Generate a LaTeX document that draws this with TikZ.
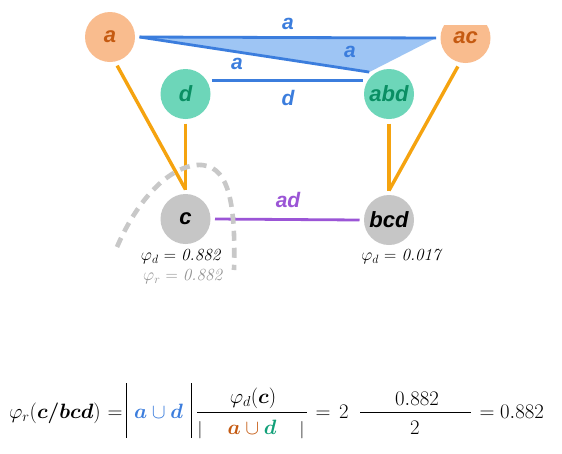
\documentclass[tikz,border=0pt]{standalone}
\usepackage{fontspec}
\usepackage{amsmath}
\usepackage{bm}
\newfontfamily\lblfont{Liberation Sans}
\definecolor{orfill}{HTML}{F9BC8E}
\definecolor{ortext}{HTML}{C55A11}
\definecolor{grfill}{HTML}{6DD6B9}
\definecolor{grtext}{HTML}{0A8F63}
\definecolor{gyfill}{HTML}{C6C6C6}
\definecolor{blueline}{HTML}{3B7DDD}
\definecolor{bluefill}{HTML}{9EC5F4}
\definecolor{orline}{HTML}{F5A30F}
\definecolor{purline}{HTML}{9B55D6}
\definecolor{dashgray}{HTML}{C8C8C8}
\definecolor{fgreen}{HTML}{12A079}
\usetikzlibrary{calc}
\begin{document}
\begin{tikzpicture}[x=1pt,y=-1pt,
  vtx/.style={circle,minimum size=50pt,inner sep=0pt,outer sep=4.5pt,
    font=\lblfont\bfseries\itshape\fontsize{22}{26}\selectfont},
  orvtx/.style={vtx,fill=orfill,text=ortext},
  grvtx/.style={vtx,fill=grfill,text=grtext},
  gyvtx/.style={vtx,fill=gyfill,text=black},
  elbl/.style={font=\lblfont\bfseries\itshape\fontsize{21}{25}\selectfont,inner sep=0pt},
  blueedge/.style={draw=blueline,line width=2.8pt},
  oredge/.style={draw=orline,line width=3.4pt},
  valtxt/.style={font=\fontsize{17}{20}\selectfont,inner sep=0pt},
  fml/.style={font=\fontsize{21}{25}\selectfont,inner sep=0pt,anchor=base},
]
\fill[white] (0,0) rectangle (562,453);
\useasboundingbox (0,0) rectangle (562,453);

% clipped fill of ac
\begin{scope}
  \clip (430,25) rectangle (500,75);
  \fill[orfill] (465.5,38) circle[radius=25];
\end{scope}

% nodes
\node[orvtx] (a) at (110,37) {a};
\node[vtx,text=ortext] (ac) at (465.5,38) {ac};
\node[grvtx] (d) at (185.5,94) {d};
\node[grvtx] (abd) at (389,94) {abd};
\node[gyvtx] (c) at (185.5,219) {c};
\node[gyvtx] (bcd) at (389,220) {bcd};

% blue hyperedge triangle
\fill[bluefill] (a.east) -- (ac.west) -- (abd.132) -- cycle;
\draw[blueedge] (a.east) -- (ac.west);
\draw[blueedge] (a.east) -- (abd.132);
\draw[blueedge] (d.27) -- (abd.153);

% orange edges
\draw[oredge] (a.-76) -- (c.north);
\draw[oredge] (d.south) -- (c.north);
\draw[oredge] (abd.south) -- (bcd.north);
\draw[oredge] (ac.255) -- (bcd.north);

% purple edge
\draw[draw=purline,line width=2.8pt] (c.east) -- (bcd.west);

% edge labels
\node[elbl,text=blueline] (la1) at (288,24) {a};
\node[elbl,text=blueline] (la2) at (350,52) {a};
\node[elbl,text=blueline] (la3) at (237,64) {a};
\node[elbl,text=blueline] (ld) at (288,98) {d};
\node[elbl,text=purline] (lad) at (288,200) {ad};

% dashed arc
\draw[dashgray,line width=4.6pt,dash pattern=on 10pt off 7pt]
  (117,247) .. controls (135,205) and (165,168) .. (197,165)
  .. controls (228,163) and (236,200) .. (234,270);

% values
\node[valtxt] (vc) at (181,257) {$\varphi_d$ = \textit{0.882}};
\node[valtxt,text=gray!85] (vr) at (183,277) {$\varphi_r$ = \textit{0.882}};
\node[valtxt] (vbcd) at (402,257) {$\varphi_d$ = \textit{0.017}};

% formula
\node[fml,font=\fontsize{20}{24}\selectfont] (f1) at (55,418) {$\varphi_r(\bm{c/bcd})$};
\node[fml] (eq1) at (115,418) {$=$};
\draw[line width=1pt] (126,383) -- (126,438);
\node[fml] (aud) at (158.5,418) {$\color{blueline}\bm{a}\cup\color{blueline}\bm{d}$};
\draw[line width=1pt] (191,383) -- (191,438);
\draw[line width=0.7pt] (197,412) -- (307,412);
\node[fml] (num1) at (253,403) {$\varphi_d(\bm{c})$};
\node[fml,font=\fontsize{18}{22}\selectfont] (db1) at (200,434) {$|$};
\node[fml] (den1) at (252,434) {$\color{ortext}\bm{a}\cup\color{fgreen}\bm{d}$};
\node[fml,font=\fontsize{18}{22}\selectfont] (db2) at (302,434) {$|$};
\node[fml] (eq2) at (323,418) {$=$};
\node[fml] (two) at (344,418) {$2$};
\draw[line width=0.7pt] (360,412) -- (471,412);
\node[fml] (num2) at (417,405) {$0.882$};
\node[fml] (den2) at (415,434) {$2$};
\node[fml] (eq3) at (487,418) {$=$};
\node[fml,anchor=base west] (res) at (500,418) {$0.882$};
\end{tikzpicture}
\end{document}
